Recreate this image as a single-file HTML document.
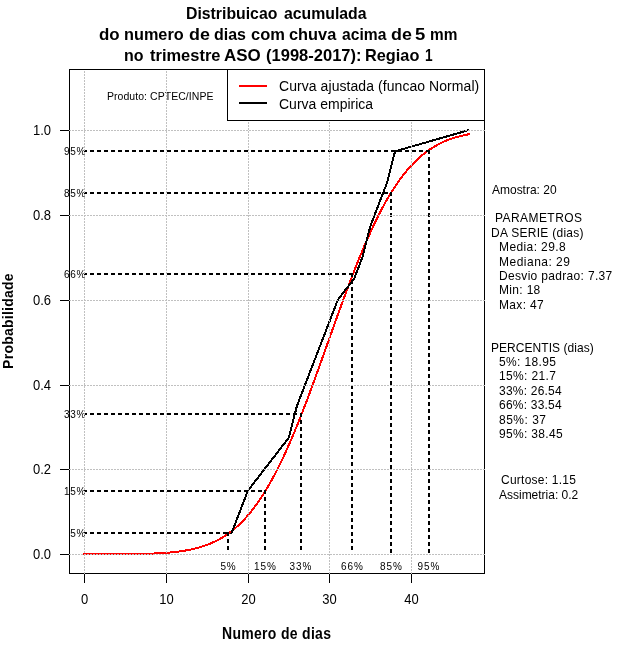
<!DOCTYPE html><html><head><meta charset="utf-8"><title>Distribuicao acumulada</title><style>html,body{margin:0;padding:0;background:#fff;}svg{display:block;will-change:transform;}text{font-family:"Liberation Sans",sans-serif;fill:#000;}</style></head><body>
<svg width="640" height="660" viewBox="0 0 640 660">
<rect x="0" y="0" width="640" height="660" fill="#fff"/>
<polyline fill="none" stroke="#f00" stroke-width="2" stroke-linecap="square" shape-rendering="crispEdges" points="84.37,554.32 85.65,554.32 86.93,554.32 88.21,554.32 89.49,554.31 90.77,554.31 92.06,554.31 93.34,554.31 94.62,554.31 95.90,554.31 97.18,554.30 98.46,554.30 99.74,554.30 101.02,554.29 102.30,554.29 103.58,554.29 104.86,554.28 106.15,554.28 107.43,554.28 108.71,554.27 109.99,554.27 111.27,554.26 112.55,554.26 113.83,554.25 115.11,554.24 116.39,554.24 117.67,554.23 118.95,554.22 120.24,554.21 121.52,554.20 122.80,554.19 124.08,554.18 125.36,554.17 126.64,554.15 127.92,554.14 129.20,554.12 130.48,554.11 131.76,554.09 133.04,554.07 134.33,554.05 135.61,554.03 136.89,554.01 138.17,553.98 139.45,553.96 140.73,553.93 142.01,553.90 143.29,553.87 144.57,553.84 145.85,553.80 147.13,553.76 148.42,553.72 149.70,553.68 150.98,553.63 152.26,553.58 153.54,553.53 154.82,553.47 156.10,553.41 157.38,553.35 158.66,553.28 159.94,553.21 161.22,553.13 162.51,553.05 163.79,552.97 165.07,552.88 166.35,552.78 167.63,552.68 168.91,552.57 170.19,552.46 171.47,552.34 172.75,552.21 174.03,552.08 175.31,551.94 176.60,551.79 177.88,551.63 179.16,551.47 180.44,551.29 181.72,551.11 183.00,550.91 184.28,550.71 185.56,550.50 186.84,550.27 188.12,550.03 189.40,549.78 190.69,549.52 191.97,549.25 193.25,548.96 194.53,548.66 195.81,548.34 197.09,548.01 198.37,547.66 199.65,547.30 200.93,546.92 202.21,546.52 203.49,546.10 204.78,545.67 206.06,545.22 207.34,544.74 208.62,544.25 209.90,543.73 211.18,543.19 212.46,542.63 213.74,542.05 215.02,541.44 216.30,540.81 217.58,540.15 218.87,539.47 220.15,538.76 221.43,538.02 222.71,537.25 223.99,536.45 225.27,535.63 226.55,534.77 227.83,533.88 229.11,532.97 230.39,532.01 231.67,531.03 232.96,530.01 234.24,528.96 235.52,527.87 236.80,526.74 238.08,525.58 239.36,524.38 240.64,523.14 241.92,521.86 243.20,520.55 244.48,519.19 245.76,517.79 247.05,516.36 248.33,514.88 249.61,513.36 250.89,511.79 252.17,510.18 253.45,508.53 254.73,506.84 256.01,505.10 257.29,503.31 258.57,501.49 259.85,499.61 261.14,497.69 262.42,495.72 263.70,493.71 264.98,491.65 266.26,489.55 267.54,487.40 268.82,485.20 270.10,482.96 271.38,480.67 272.66,478.33 273.94,475.95 275.23,473.52 276.51,471.05 277.79,468.53 279.07,465.97 280.35,463.36 281.63,460.70 282.91,458.01 284.19,455.27 285.47,452.48 286.75,449.66 288.03,446.79 289.32,443.89 290.60,440.94 291.88,437.95 293.16,434.93 294.44,431.87 295.72,428.77 297.00,425.64 298.28,422.47 299.56,419.27 300.84,416.03 302.12,412.77 303.41,409.47 304.69,406.15 305.97,402.80 307.25,399.42 308.53,396.02 309.81,392.59 311.09,389.14 312.37,385.68 313.65,382.19 314.93,378.68 316.21,375.16 317.50,371.63 318.78,368.08 320.06,364.52 321.34,360.94 322.62,357.36 323.90,353.78 325.18,350.19 326.46,346.59 327.74,343.00 329.02,339.40 330.30,335.80 331.58,332.21 332.87,328.62 334.15,325.04 335.43,321.46 336.71,317.90 337.99,314.34 339.27,310.80 340.55,307.27 341.83,303.76 343.11,300.27 344.39,296.79 345.67,293.33 346.96,289.90 348.24,286.49 349.52,283.10 350.80,279.73 352.08,276.40 353.36,273.09 354.64,269.81 355.92,266.57 357.20,263.35 358.48,260.17 359.76,257.02 361.05,253.91 362.33,250.83 363.61,247.79 364.89,244.79 366.17,241.82 367.45,238.90 368.73,236.02 370.01,233.17 371.29,230.37 372.57,227.61 373.85,224.90 375.14,222.23 376.42,219.60 377.70,217.02 378.98,214.48 380.26,211.98 381.54,209.54 382.82,207.14 384.10,204.78 385.38,202.47 386.66,200.21 387.94,197.99 389.23,195.82 390.51,193.70 391.79,191.62 393.07,189.59 394.35,187.60 395.63,185.66 396.91,183.77 398.19,181.92 399.47,180.11 400.75,178.36 402.03,176.64 403.32,174.97 404.60,173.35 405.88,171.76 407.16,170.22 408.44,168.73 409.72,167.27 411.00,165.86 412.28,164.48 413.56,163.15 414.84,161.86 416.12,160.60 417.41,159.39 418.69,158.21 419.97,157.07 421.25,155.96 422.53,154.89 423.81,153.86 425.09,152.86 426.37,151.90 427.65,150.96 428.93,150.06 430.21,149.19 431.50,148.35 432.78,147.55 434.06,146.77 435.34,146.02 436.62,145.29 437.90,144.60 439.18,143.93 440.46,143.29 441.74,142.67 443.02,142.07 444.30,141.50 445.59,140.96 446.87,140.43 448.15,139.93 449.43,139.44 450.71,138.98 451.99,138.54 453.27,138.11 454.55,137.71 455.83,137.32 457.11,136.95 458.39,136.60 459.68,136.26 460.96,135.93 462.24,135.63 463.52,135.33 464.80,135.05 466.08,134.79 467.36,134.53 468.64,134.29"/>
<polyline fill="none" stroke="#000" stroke-width="2" stroke-linejoin="round" stroke-linecap="square" shape-rendering="crispEdges" points="231.54,533.12 239.71,511.91 247.89,490.70 264.24,469.49 288.77,437.68 296.95,405.86 313.30,363.44 329.65,321.02 337.83,299.81 354.18,278.60 362.35,257.39 370.53,225.58 386.88,183.16 395.06,151.34 468.64,130.13"/>
<g stroke="#000" stroke-width="2" stroke-dasharray="4 3" shape-rendering="crispEdges"><line x1="84" y1="533" x2="228" y2="533" stroke-dashoffset="1"/><line x1="228" y1="532" x2="228" y2="553"/><line x1="84" y1="491" x2="265" y2="491" stroke-dashoffset="1"/><line x1="265" y1="490" x2="265" y2="553"/><line x1="84" y1="414" x2="301" y2="414" stroke-dashoffset="1"/><line x1="301" y1="413" x2="301" y2="553"/><line x1="84" y1="274" x2="352" y2="274" stroke-dashoffset="1"/><line x1="352" y1="273" x2="352" y2="553"/><line x1="84" y1="193" x2="391" y2="193" stroke-dashoffset="1"/><line x1="391" y1="192" x2="391" y2="553"/><line x1="84" y1="151" x2="429" y2="151" stroke-dashoffset="1"/><line x1="429" y1="150" x2="429" y2="553"/></g>
<text transform="translate(86,537) scale(1.0,1.12)" font-size="10" text-anchor="end" letter-spacing="0.7">5%</text>
<text transform="translate(228.3,570) scale(1.0,1.12)" font-size="10" text-anchor="middle" letter-spacing="0.6">5%</text>
<text transform="translate(86,495) scale(1.0,1.12)" font-size="10" text-anchor="end" letter-spacing="0.7">15%</text>
<text transform="translate(265.5,570) scale(1.0,1.12)" font-size="10" text-anchor="middle" letter-spacing="1.0">15%</text>
<text transform="translate(86,418) scale(1.0,1.12)" font-size="10" text-anchor="end" letter-spacing="0.7">33%</text>
<text transform="translate(301,570) scale(1.0,1.12)" font-size="10" text-anchor="middle" letter-spacing="1.0">33%</text>
<text transform="translate(86,278) scale(1.0,1.12)" font-size="10" text-anchor="end" letter-spacing="0.7">66%</text>
<text transform="translate(352.5,570) scale(1.0,1.12)" font-size="10" text-anchor="middle" letter-spacing="1.0">66%</text>
<text transform="translate(86,197) scale(1.0,1.12)" font-size="10" text-anchor="end" letter-spacing="0.7">85%</text>
<text transform="translate(391.5,570) scale(1.0,1.12)" font-size="10" text-anchor="middle" letter-spacing="1.0">85%</text>
<text transform="translate(86,155) scale(1.0,1.12)" font-size="10" text-anchor="end" letter-spacing="0.7">95%</text>
<text transform="translate(429,570) scale(1.0,1.12)" font-size="10" text-anchor="middle" letter-spacing="1.0">95%</text>
<text transform="translate(107,100) scale(1.0,1.05)" font-size="10.5" text-anchor="start" letter-spacing="0.056">Produto: CPTEC/INPE</text>
<rect x="69.5" y="69.5" width="415" height="504" fill="none" stroke="#000" stroke-width="1" shape-rendering="crispEdges"/>
<g stroke="#000" stroke-width="1" shape-rendering="crispEdges"><line x1="84.5" y1="573" x2="84.5" y2="583"/><line x1="166.5" y1="573" x2="166.5" y2="583"/><line x1="248.5" y1="573" x2="248.5" y2="583"/><line x1="329.5" y1="573" x2="329.5" y2="583"/><line x1="411.5" y1="573" x2="411.5" y2="583"/><line x1="60" y1="130.5" x2="69" y2="130.5"/><line x1="60" y1="215.5" x2="69" y2="215.5"/><line x1="60" y1="300.5" x2="69" y2="300.5"/><line x1="60" y1="385.5" x2="69" y2="385.5"/><line x1="60" y1="469.5" x2="69" y2="469.5"/><line x1="60" y1="554.5" x2="69" y2="554.5"/></g>
<g stroke="#c0c0c0" stroke-width="1" stroke-dasharray="2 1" shape-rendering="crispEdges"><line x1="84.5" y1="574" x2="84.5" y2="70"/><line x1="166.5" y1="574" x2="166.5" y2="70"/><line x1="248.5" y1="574" x2="248.5" y2="70"/><line x1="329.5" y1="574" x2="329.5" y2="70"/><line x1="411.5" y1="574" x2="411.5" y2="70"/><line x1="69" y1="130.5" x2="485" y2="130.5"/><line x1="69" y1="215.5" x2="485" y2="215.5"/><line x1="69" y1="300.5" x2="485" y2="300.5"/><line x1="69" y1="385.5" x2="485" y2="385.5"/><line x1="69" y1="469.5" x2="485" y2="469.5"/><line x1="69" y1="554.5" x2="485" y2="554.5"/></g>
<text transform="translate(84.5,604) scale(1.0,1.16)" font-size="13" text-anchor="middle">0</text>
<text transform="translate(166.5,604) scale(1.0,1.16)" font-size="13" text-anchor="middle">10</text>
<text transform="translate(248.5,604) scale(1.0,1.16)" font-size="13" text-anchor="middle">20</text>
<text transform="translate(329.5,604) scale(1.0,1.16)" font-size="13" text-anchor="middle">30</text>
<text transform="translate(411.5,604) scale(1.0,1.16)" font-size="13" text-anchor="middle">40</text>
<text transform="translate(51,135) scale(1.0,1.16)" font-size="13" text-anchor="end">1.0</text>
<text transform="translate(51,220) scale(1.0,1.16)" font-size="13" text-anchor="end">0.8</text>
<text transform="translate(51,305) scale(1.0,1.16)" font-size="13" text-anchor="end">0.6</text>
<text transform="translate(51,390) scale(1.0,1.16)" font-size="13" text-anchor="end">0.4</text>
<text transform="translate(51,474) scale(1.0,1.16)" font-size="13" text-anchor="end">0.2</text>
<text transform="translate(51,559) scale(1.0,1.16)" font-size="13" text-anchor="end">0.0</text>
<rect x="227.5" y="69.5" width="257" height="51" fill="#fff" stroke="#000" stroke-width="1" shape-rendering="crispEdges"/>
<line x1="239" y1="86" x2="267" y2="86" stroke="#f00" stroke-width="2" shape-rendering="crispEdges"/>
<line x1="239" y1="103" x2="267" y2="103" stroke="#000" stroke-width="2" shape-rendering="crispEdges"/>
<text transform="translate(186,19) scale(0.989,1.04)" font-size="16" text-anchor="start" font-weight="bold">Distribuicao</text>
<text transform="translate(284,19) scale(0.9881,1.04)" font-size="16" text-anchor="start" font-weight="bold">acumulada</text>
<text transform="translate(99,40) scale(1.0556,1.04)" font-size="16" text-anchor="start" font-weight="bold">do</text>
<text transform="translate(124,40) scale(1.0175,1.04)" font-size="16" text-anchor="start" font-weight="bold">numero</text>
<text transform="translate(189,40) scale(1.1176,1.04)" font-size="16" text-anchor="start" font-weight="bold">de</text>
<text transform="translate(214,40) scale(1.0,1.04)" font-size="16" text-anchor="start" font-weight="bold">dias</text>
<text transform="translate(251,40) scale(1.0323,1.04)" font-size="16" text-anchor="start" font-weight="bold">com</text>
<text transform="translate(289,40) scale(1.0222,1.04)" font-size="16" text-anchor="start" font-weight="bold">chuva</text>
<text transform="translate(342,40) scale(0.9778,1.04)" font-size="16" text-anchor="start" font-weight="bold">acima</text>
<text transform="translate(391,40) scale(1.1176,1.04)" font-size="16" text-anchor="start" font-weight="bold">de</text>
<text transform="translate(415,40) scale(1.1571,1.04)" font-size="16" text-anchor="start" font-weight="bold">5</text>
<text transform="translate(430,40) scale(0.963,1.04)" font-size="16" text-anchor="start" font-weight="bold">mm</text>
<text transform="translate(124,61) scale(1.0,1.04)" font-size="16" text-anchor="start" font-weight="bold">no</text>
<text transform="translate(150,61) scale(1.0294,1.04)" font-size="16" text-anchor="start" font-weight="bold">trimestre</text>
<text transform="translate(224,61) scale(1.0606,1.04)" font-size="16" text-anchor="start" font-weight="bold">ASO</text>
<text transform="translate(266,61) scale(1.0333,1.04)" font-size="16" text-anchor="start" font-weight="bold">(1998-2017):</text>
<text transform="translate(365,61) scale(1.0192,1.04)" font-size="16" text-anchor="start" font-weight="bold">Regiao</text>
<text transform="translate(425,61) scale(0.8571,1.04)" font-size="16" text-anchor="start" font-weight="bold">1</text>
<text transform="translate(279,91) scale(1.0,1.1)" font-size="14" text-anchor="start" letter-spacing="0.069">Curva ajustada (funcao Normal)</text>
<text transform="translate(279,109) scale(1.0,1.1)" font-size="14" text-anchor="start">Curva empirica</text>
<text transform="translate(222,639) scale(1.0,1.12)" font-size="14" text-anchor="start" font-weight="bold" letter-spacing="0.308">Numero de dias</text>
<text transform="translate(492,194) scale(1.0,1.08)" font-size="12" text-anchor="start">Amostra: 20</text>
<text transform="translate(495,222) scale(1.0,1.08)" font-size="12" text-anchor="start" letter-spacing="0.444">PARAMETROS</text>
<text transform="translate(491,237) scale(1.0,1.08)" font-size="12" text-anchor="start" letter-spacing="0.286">DA SERIE (dias)</text>
<text transform="translate(499,251) scale(1.0,1.08)" font-size="12" text-anchor="start" letter-spacing="0.4">Media: 29.8</text>
<text transform="translate(499,266) scale(1.0,1.08)" font-size="12" text-anchor="start" letter-spacing="0.5">Mediana: 29</text>
<text transform="translate(499,280) scale(1.0,1.08)" font-size="12" text-anchor="start" letter-spacing="0.333">Desvio padrao: 7.37</text>
<text transform="translate(499,294) scale(1.0,1.08)" font-size="12" text-anchor="start" letter-spacing="0.333">Min: 18</text>
<text transform="translate(499,309) scale(1.0,1.08)" font-size="12" text-anchor="start" letter-spacing="0.333">Max: 47</text>
<text transform="translate(491,352) scale(1.0,1.08)" font-size="12" text-anchor="start" letter-spacing="0.067">PERCENTIS (dias)</text>
<text transform="translate(499,366) scale(1.0,1.08)" font-size="12" text-anchor="start" letter-spacing="0.375">5%: 18.95</text>
<text transform="translate(499,380) scale(1.0,1.08)" font-size="12" text-anchor="start" letter-spacing="0.375">15%: 21.7</text>
<text transform="translate(499,395) scale(1.0,1.08)" font-size="12" text-anchor="start" letter-spacing="0.222">33%: 26.54</text>
<text transform="translate(499,409) scale(1.0,1.08)" font-size="12" text-anchor="start" letter-spacing="0.222">66%: 33.54</text>
<text transform="translate(499,424) scale(1.0,1.08)" font-size="12" text-anchor="start" letter-spacing="0.5">85%: 37</text>
<text transform="translate(499,438) scale(1.0,1.08)" font-size="12" text-anchor="start" letter-spacing="0.333">95%: 38.45</text>
<text transform="translate(501,484) scale(1.0,1.08)" font-size="12" text-anchor="start" letter-spacing="0.25">Curtose: 1.15</text>
<text transform="translate(499,499) scale(1.0,1.08)" font-size="12" text-anchor="start">Assimetria: 0.2</text>
<text transform="translate(13,321) rotate(-90) scale(1,1.05)" font-size="14" font-weight="bold" text-anchor="middle" letter-spacing="0.25">Probabilidade</text>
</svg></body></html>
